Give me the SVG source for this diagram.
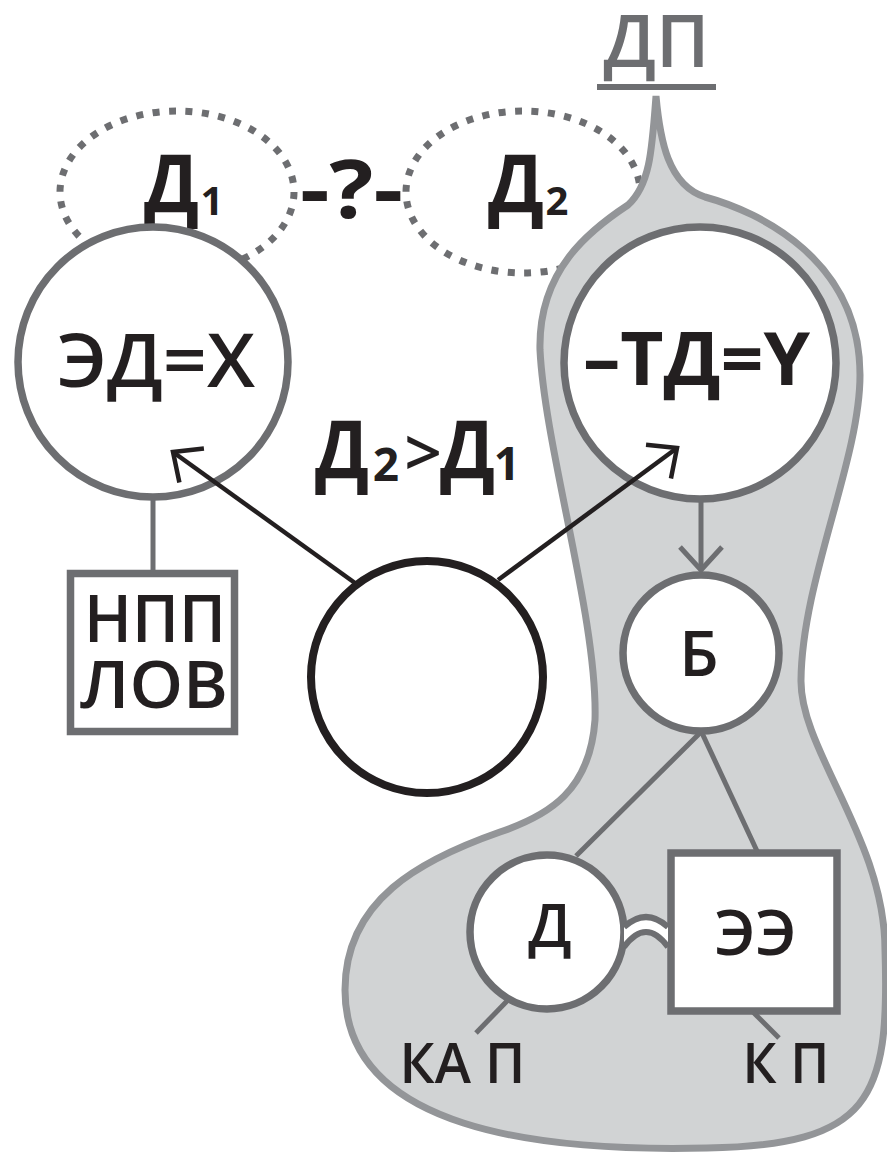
<svg xmlns="http://www.w3.org/2000/svg" width="887" height="1153" viewBox="0 0 887 1153">
<defs>
<style>
.t{font-family:'Open Sans','Noto Sans','Liberation Sans',sans-serif;fill:#231f20;text-anchor:middle}
.b{font-weight:700}
.r{font-weight:600}
.g{fill:#6d6e71}
.dot{fill:none;stroke:#6d6e71;stroke-width:7;stroke-dasharray:7 9.5}
.node{fill:#fff;stroke:#6d6e71;stroke-width:7.5}
.gl{fill:none;stroke:#6d6e71;stroke-width:5}
.bl{fill:none;stroke:#231f20;stroke-width:4.5}
</style>
<marker id="ab" markerUnits="userSpaceOnUse" viewBox="-30 -30 40 60" markerWidth="40" markerHeight="60" refX="0" refY="0" orient="auto" overflow="visible">
<path d="M-23,-21 L0,0 L-23,21" fill="none" stroke="#231f20" stroke-width="4.5"/>
</marker>
<marker id="ag" markerUnits="userSpaceOnUse" viewBox="-30 -30 40 60" markerWidth="40" markerHeight="60" refX="0" refY="0" orient="auto" overflow="visible">
<path d="M-23,-21 L0,0 L-23,21" fill="none" stroke="#6d6e71" stroke-width="5"/>
</marker>
</defs>
<rect width="887" height="1153" fill="#fff"/>

<g id="d1">
<ellipse class="dot" cx="177" cy="192" rx="117" ry="81"/>
<text class="t b" x="171.5" y="212" font-size="80" textLength="55" lengthAdjust="spacingAndGlyphs">Д</text>
<text class="t b" x="212" y="215" font-size="40">1</text>
</g>
<g id="d2">
<ellipse class="dot" cx="523" cy="192" rx="117" ry="81"/>
<text class="t b" x="516" y="212" font-size="80" textLength="56" lengthAdjust="spacingAndGlyphs">Д</text>
<text class="t b" x="557" y="215" font-size="40">2</text>
</g>
<text id="q" class="t b" x="351.5" y="218" font-size="80" textLength="103" lengthAdjust="spacingAndGlyphs">-?-</text>

<g id="dp">
<path d="M656,96 C660,140 668,185 705,197 C760,212 860,260 860,375 C860,460 802,580 801,680 C800,750 885,840 885,950 C890,1100 870,1145 707,1148 C540,1152 345,1130 345,990 C345,900 420,860 500,832 C550,815 590,790 595,720 C598,620 545,450 540,350 C538,270 590,230 628,205 C650,185 652,150 656,96 Z" fill="#d1d3d4" stroke="#939598" stroke-width="7"/>
<text class="t r g" x="656.5" y="67" font-size="73" textLength="106" lengthAdjust="spacingAndGlyphs">ДП</text>
<rect x="597" y="84" width="119" height="6" fill="#6d6e71"/>
</g>

<g id="ed">
<circle class="node" cx="153" cy="362" r="135"/>
<text class="t r" x="156" y="387" font-size="75" textLength="198" lengthAdjust="spacingAndGlyphs">ЭД=X</text>
</g>
<g id="npp">
<rect class="node" x="70.5" y="573.5" width="164" height="158"/>
<text class="t r" x="155" y="642" font-size="66" textLength="142" lengthAdjust="spacingAndGlyphs">НПП</text>
<text class="t r" x="154" y="708" font-size="66" textLength="148" lengthAdjust="spacingAndGlyphs">ЛОВ</text>
</g>
<g id="td">
<circle class="node" cx="700" cy="363" r="136"/>
<text class="t b" x="696.5" y="385" font-size="73" textLength="227" lengthAdjust="spacingAndGlyphs">–ТД=Y</text>
</g>
<g id="cmp">
<text class="t b" x="342" y="478" font-size="80" textLength="54" lengthAdjust="spacingAndGlyphs">Д</text>
<text class="t b" x="386" y="481" font-size="46">2</text>
<text class="t r" x="423" y="476" font-size="66">&gt;</text>
<text class="t b" x="467.5" y="478" font-size="80" textLength="55" lengthAdjust="spacingAndGlyphs">Д</text>
<text class="t b" x="507" y="480" font-size="46">1</text>
</g>
<g id="center">
<circle cx="427" cy="677" r="116" fill="#fff" stroke="#231f20" stroke-width="8"/>
</g>
<g id="b">
<circle class="node" cx="701" cy="653" r="78"/>
<text class="t r" x="699" y="676" font-size="63">Б</text>
</g>
<g id="d">
<circle class="node" cx="547" cy="932" r="77"/>
<text class="t r" x="550" y="947" font-size="60">Д</text>
</g>
<g id="ee">
<rect class="node" x="671" y="853" width="166" height="158"/>
<text class="t r" x="755.5" y="955" font-size="63" textLength="82" lengthAdjust="spacingAndGlyphs">ЭЭ</text>
</g>
<text id="kap" class="t r" x="462.5" y="1083" font-size="56" textLength="126" lengthAdjust="spacingAndGlyphs">КА П</text>
<text id="kp" class="t r" x="786" y="1083" font-size="56" textLength="87" lengthAdjust="spacingAndGlyphs">К П</text>

<g id="connectors">
<line class="gl" x1="153" y1="500" x2="153" y2="572"/>
<path class="bl" d="M355,583 L173,452" marker-end="url(#ab)"/>
<path class="bl" d="M498,580 L677,448" marker-end="url(#ab)"/>
<path class="gl" d="M701,500 L701,570" marker-end="url(#ag)"/>
<line class="gl" x1="700" y1="733" x2="576" y2="856"/>
<line class="gl" x1="702" y1="733" x2="757" y2="851"/>
<line class="gl" x1="508" y1="1000" x2="476" y2="1033"/>
<line class="gl" x1="753" y1="1012" x2="779" y2="1038"/>
<path d="M624,927 Q646,907 668,927 L668,947 Q646,917 624,947 Z" fill="#fff"/>
<path d="M624,927 Q646,907 668,927" fill="none" stroke="#6d6e71" stroke-width="6"/>
<path d="M624,947 Q646,917 668,947" fill="none" stroke="#6d6e71" stroke-width="6"/>
</g>
</svg>
